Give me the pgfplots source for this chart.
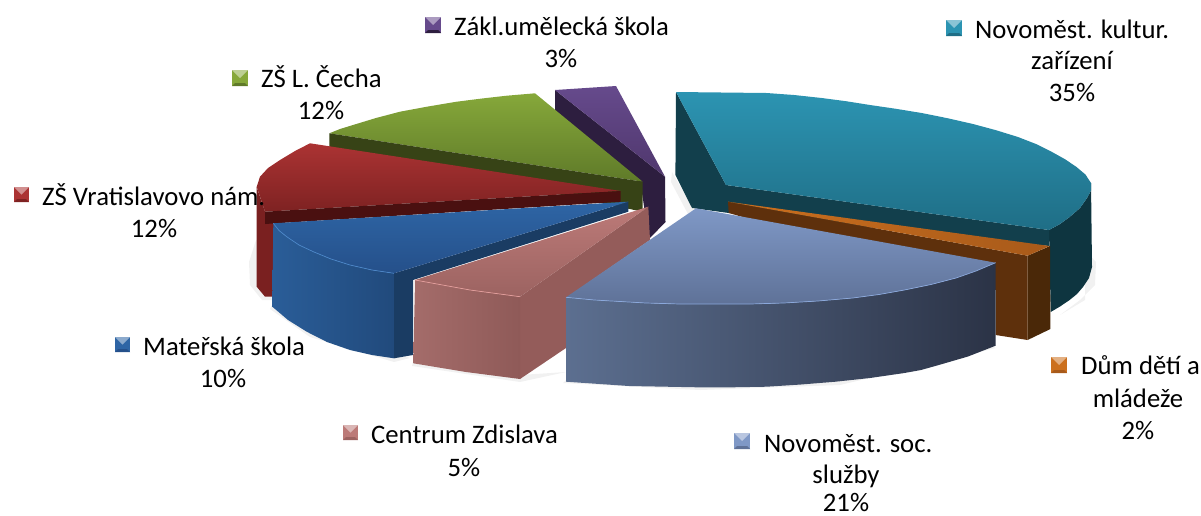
\documentclass[border=0pt]{standalone}
\usepackage{pgfplots}
\pgfplotsset{compat=1.18}
\usepackage{fontspec}
\usepackage{xfp}
\setmainfont{Carlito}
\definecolor{shad}{HTML}{F1F1F1}
\definecolor{pu1}{HTML}{664A8C}\definecolor{pu2}{HTML}{4F376D}\definecolor{pud}{HTML}{2D1E3F}
\definecolor{gr1}{HTML}{86A83A}\definecolor{gr2}{HTML}{5F7A29}\definecolor{grd}{HTML}{374316}
\definecolor{re1}{HTML}{AB3333}\definecolor{re2}{HTML}{7E2222}\definecolor{red}{HTML}{4A1010}\definecolor{reo}{HTML}{7A2020}
\definecolor{bl1}{HTML}{2E65A5}\definecolor{bl2}{HTML}{25508A}\definecolor{bld}{HTML}{1A3C63}\definecolor{blo1}{HTML}{2A5D98}\definecolor{blo2}{HTML}{214A7C}\definecolor{blr}{HTML}{4A86C8}
\definecolor{pi1}{HTML}{BC7A78}\definecolor{pi2}{HTML}{9C6361}\definecolor{pid}{HTML}{945C5A}\definecolor{pio1}{HTML}{A46C6A}\definecolor{pio2}{HTML}{8F5A58}\definecolor{pir}{HTML}{E29C9A}
\definecolor{te1}{HTML}{2C94B2}\definecolor{te2}{HTML}{1F6E86}\definecolor{ted}{HTML}{123F4C}\definecolor{teo}{HTML}{0E3540}
\definecolor{or1}{HTML}{CC701E}\definecolor{or2}{HTML}{A85A1A}\definecolor{ord}{HTML}{5E300C}\definecolor{oro}{HTML}{4A2808}
\definecolor{sl1}{HTML}{7F98C6}\definecolor{sl2}{HTML}{5F7298}\definecolor{slo1}{HTML}{5C6F90}\definecolor{slo2}{HTML}{2B3346}\definecolor{slr}{HTML}{8AA8DC}
\definecolor{txt}{HTML}{000000}
\newcommand\poly[2]{\addplot[draw=none,#1] coordinates {#2} -- cycle;}
\newcommand\lbl[3]{\node[anchor=base,inner sep=0pt,text=txt] at (axis cs:#1,#2) {\fontsize{26.7}{32}\selectfont #3};}
\newcommand\lbll[3]{\node[anchor=base west,inner sep=0pt,text=txt] at (axis cs:#1,#2) {\fontsize{26.7}{32}\selectfont #3};}
% bevelled legend key: x0,y0,x1,y1,base,darker
\newcommand\key[6]{%
  \poly{fill=#5}{(#1,#2) (#3,#2) (#3,#4) (#1,#4)}
  \poly{fill=#5!55!white}{(#1,#2) (#3,#2) (\fpeval{(#1+#3)/2},\fpeval{(#2+#4)/2})}
  \poly{fill=#6}{(#1,#4) (#3,#4) (\fpeval{#3-3},\fpeval{#4-3}) (\fpeval{#1+3},\fpeval{#4-3})}
}
\begin{document}
\begin{tikzpicture}
\useasboundingbox (0,0) rectangle (1201pt,515pt);
\begin{axis}[at={(0,0)},anchor=south west,scale only axis,width=1201pt,height=515pt,xmin=0,xmax=1201,ymin=0,ymax=515,y dir=reverse,hide axis,clip=false]
% soft shadows
\poly{fill=shad}{(256,240) (249,262) (250,285) (262,300) (275,300) (275,240)}
\poly{fill=shad}{(1085,250) (1096,262) (1095,285) (1080,300) (1060,315) (1085,300)}
\poly{fill=shad}{(672,172) (671,182) (688,214) (694,210)}
\poly{fill=shad}{(272,305) (270,309) (310,337) (394,362) (410,358)}
\poly{fill=shad}{(413,362) (412,366) (520,382) (566,372) (520,375)}
\poly{fill=shad}{(566,380) (563,383) (700,390) (840,385) (996,348) (990,345)}
% purple slice
\poly{fill=pud}{(555,90) (665,176.7) (665.5,222) (649,239) (640,180) (555,112)}
\poly{top color=pu1,bottom color=pu2}{(555,90) (616,86) (665,176.7)}
% green slice
\poly{top color=gr1,bottom color=gr2}{(329.3,133.3) (340,129) (353,125) (376,118) (400,111.7) (428,106.5) (456.7,101.7) (482,98.5) (506.7,95.7) (535,93.3) (642.7,181.7)}
\poly{fill=grd}{(329.3,133.3) (642.7,181.7) (642.7,211.7) (329.3,147)}
% red slice
\poly{fill=reo}{(256.7,187) (265,211.7) (275,215) (275,296.7) (265,296.7) (256.7,286.7)}
\poly{top color=re1,bottom color=re2}{(310,143.3) (620.7,191) (265,211.7) (256.7,186.7) (260,176.7) (268,168) (280,160) (295,151)}
\poly{fill=red}{(265,211.7) (620.7,191) (620.7,201.7) (265,224)}
% blue slice
\poly{left color=blo1,right color=blo2}{(273.3,223.3) (279,230.5) (286.7,236.7) (299,245) (313.3,251.7) (331,259) (350,265) (372,270) (394,273.3) (394,358.3) (372,355) (350,350) (327,342) (306.7,331.7) (288,320) (272.3,306.7)}
\poly{fill=bld}{(394,273.3) (628.3,201.7) (628.3,211.7) (413,280) (413,355) (394,358.3)}
\poly{top color=bl1,bottom color=bl2}{(273.3,223.3) (628.3,201.7) (394,273.3) (372,270) (350,265) (331,259) (313.3,251.7) (299,245) (286.7,236.7) (279,230.5)}
\addplot[blr,line width=0.7pt] coordinates {(273.3,223.3) (279,230.5) (286.7,236.7) (299,245) (313.3,251.7) (331,259) (350,265) (372,270) (394,273.3)};
% pink slice
\poly{fill=pid}{(520,296.7) (648.3,206.7) (650,240) (566,298) (566,348) (520,379)}
\poly{left color=pio1,right color=pio2}{(415,280) (470,290) (520,296.7) (520,379) (466,372) (413.3,363.3)}
\poly{top color=pi1,bottom color=pi2}{(415,280) (648.3,206.7) (520,296.7) (470,290)}
\addplot[pir,line width=0.7pt] coordinates {(415,280) (470,290) (520,296.7)};
% teal slice
\poly{fill=teo}{(1049,230) (1060,224) (1069.6,217) (1080,208) (1087,198) (1091,190.5) (1091,183) (1092,267) (1089,278) (1083,287) (1077,294) (1069.6,300) (1060,306.5) (1050.7,312)}
\poly{fill=ted}{(676,92) (726,185) (1049,230) (1049,246) (728.7,213) (692,208) (675.4,175)}
\poly{top color=te1,bottom color=te2}{(676,92) (766.6,93) (794,95) (821.7,98) (846,101.2) (870,105) (896,108.8) (921.6,113) (947.5,118.2) (973,124) (996,130.2) (1018,137) (1036,144) (1052,152) (1065,159.2) (1076.5,167) (1085.5,174.6) (1091,183) (1091,190.5) (1087,198) (1080,208) (1069.6,217) (1060,224) (1049,230) (726,185)}
% orange slice
\poly{fill=oro}{(1027.6,255.7) (1050,246) (1050.4,329) (1027.6,340)}
\poly{fill=ord}{(728,201.7) (1027.6,255.7) (1027.6,340) (995.6,335) (995.6,290) (728.7,213)}
\poly{left color=or1,right color=or2}{(728,201.7) (1049.7,246) (1027.6,255.7)}
% slate slice
\poly{left color=slo1,right color=slo2}{(566,297.3) (594.4,300) (646,303) (680,304) (715,304) (750,304) (783.8,303) (818,301) (852.7,298) (879,294.5) (904.4,290) (931,284.5) (956,278) (976,271) (995.6,262.7) (995.6,345.7) (968,356.5) (938.8,365) (921,370) (904.4,373) (870,378) (835.5,381.7) (801,384.5) (766.6,386.7) (732,387.3) (697.7,387.3) (629,386) (566,381.7)}
\poly{top color=sl1,bottom color=sl2}{(696,208.3) (995.6,262.7) (976,271) (956,278) (931,284.5) (904.4,290) (879,294.5) (852.7,298) (818,301) (783.8,303) (750,304) (715,304) (680,304) (646,303) (594.4,300) (566,297.3)}
\addplot[slr,line width=0.7pt] coordinates {(566,297.3) (594.4,300) (646,303) (680,304) (715,304) (750,304) (783.8,303) (818,301) (852.7,298) (879,294.5) (904.4,290) (931,284.5) (956,278) (976,271) (995.6,262.7)};
% legend keys
\key{425}{17}{441}{33}{pu1}{pud}
\key{946}{20}{962}{36}{te1}{te2}
\key{232}{70}{248}{86}{gr1}{gr2}
\key{14}{187}{29}{202}{re1}{re2}
\key{115}{337}{130}{352}{bl1}{bl2}
\key{1051}{357}{1067}{373}{or1}{or2}
\key{343}{425}{358}{440}{pi1}{pi2}
\key{734}{433}{750}{449}{sl1}{sl2}
% labels
\lbll{454}{35}{Zákl.umělecká škola}
\lbl{561}{67}{3\%}
\lbll{975}{38}{Novoměst. kultur.}
\lbl{1072}{69}{zařízení}
\lbl{1072}{101}{35\%}
\lbll{261}{87}{ZŠ L. Čecha}
\lbl{321}{119}{12\%}
\lbll{42}{205}{ZŠ Vratislavovo nám.}
\lbl{154}{237}{12\%}
\lbll{143}{355}{Mateřská škola}
\lbl{223}{387}{10\%}
\lbll{1081}{374}{Dům dětí a}
\lbl{1138}{407}{mládeže}
\lbl{1138}{439}{2\%}
\lbll{371}{443}{Centrum Zdislava}
\lbl{464}{476}{5\%}
\lbll{764}{452}{Novoměst. soc.}
\lbl{846}{483}{služby}
\lbl{846}{511}{21\%}
\end{axis}
\end{tikzpicture}
\end{document}
